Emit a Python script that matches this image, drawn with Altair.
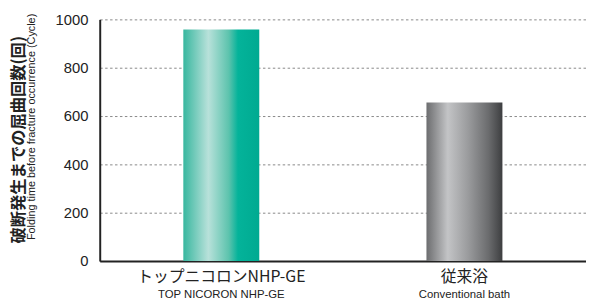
import altair as alt
import pandas as pd

categories = ["トップニコロンNHP-GE", "従来浴"]
categories_en = ["TOP NICORON NHP-GE", "Conventional bath"]
values = [958, 656]
y_ticks = [0, 200, 400, 600, 800, 1000]

df = pd.DataFrame({"cat": categories, "en": categories_en, "val": values})

W, H = 493, 245
SANS = "Liberation Sans"
JP = "Noto Sans CJK JP"

x_enc = alt.X("cat:N", sort=categories,
              scale=alt.Scale(paddingInner=0, paddingOuter=0),
              axis=alt.Axis(title=None, labels=False, ticks=False,
                            domainColor="#222", domainWidth=2))
y_enc = alt.Y("val:Q",
              scale=alt.Scale(domain=[0, 1000], nice=False),
              axis=alt.Axis(title=None, values=y_ticks, ticks=False, format="d",
                            domainColor="#222", domainWidth=2,
                            labelFont=SANS, labelFontSize=15, labelColor="#222",
                            labelPadding=12, grid=True, gridColor="#888",
                            gridDash=[2.5, 2.5], gridWidth=1))

teal = alt.LinearGradient(
    gradient="linear", x1=0, x2=1, y1=0, y2=0,
    stops=[alt.GradientStop(offset=0, color="#38b79f"),
           alt.GradientStop(offset=0.33, color="#b8e1da"),
           alt.GradientStop(offset=0.6, color="#5cc3ad"),
           alt.GradientStop(offset=0.72, color="#04b39a"),
           alt.GradientStop(offset=1, color="#00aa91")])
gray = alt.LinearGradient(
    gradient="linear", x1=0, x2=1, y1=0, y2=0,
    stops=[alt.GradientStop(offset=0, color="#6c6d6f"),
           alt.GradientStop(offset=0.28, color="#c3c4c6"),
           alt.GradientStop(offset=0.55, color="#9a9b9d"),
           alt.GradientStop(offset=0.82, color="#6a6b6d"),
           alt.GradientStop(offset=1, color="#3d3e40")])

base = alt.Chart(df)

bar1 = base.transform_filter(alt.datum.cat == categories[0]).mark_bar(
    size=77, color=teal).encode(x=x_enc, y=y_enc)
bar2 = base.transform_filter(alt.datum.cat == categories[1]).mark_bar(
    size=77, color=gray).encode(x=x_enc, y=y_enc)

lab_jp = base.mark_text(font=JP, fontSize=16, color="#222", baseline="middle").encode(
    x=x_enc, y=alt.value(H + 16.5), text="cat:N")
lab_en = base.mark_text(font=SANS, fontSize=11.5, color="#222", baseline="middle").encode(
    x=x_enc, y=alt.value(H + 34), text="en:N")

title_df = pd.DataFrame({"jp": ["破断発生までの屈曲回数(回)"],
                         "en": ["Folding time before fracture occurrence (Cycle)"]})
t_jp = alt.Chart(title_df).mark_text(font=JP, fontSize=16.5, fontWeight="bold",
                                     color="#222", angle=270, baseline="middle").encode(
    x=alt.value(-82), y=alt.value(122), text="jp:N")
t_en = alt.Chart(title_df).mark_text(font=SANS, fontSize=11, color="#222",
                                     angle=270, baseline="middle").encode(
    x=alt.value(-68.5), y=alt.value(109), text="en:N")

chart = alt.layer(bar1, bar2, lab_jp, lab_en, t_jp, t_en).properties(
    width=W, height=H,
    autosize=alt.AutoSizeParams(type="none"),
    padding={"left": 93, "top": 9.5, "right": 0, "bottom": 40},
).configure_view(stroke=None)

chart.save("out.html", embed_options={"renderer": "svg", "actions": False})
